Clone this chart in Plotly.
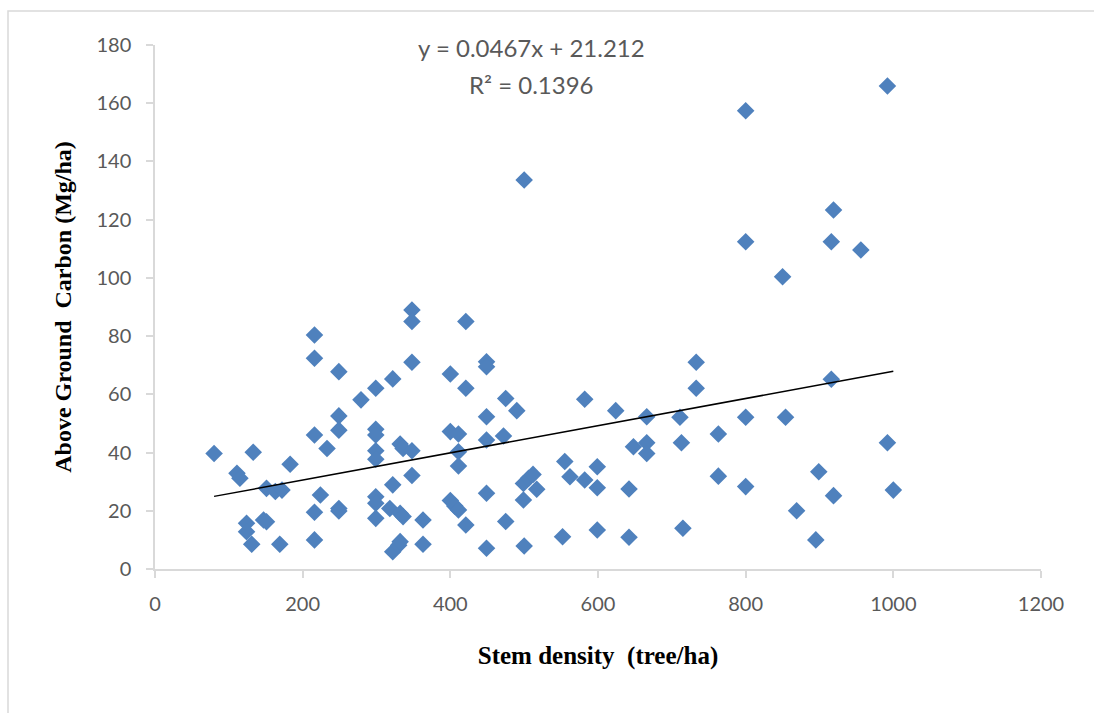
import plotly.graph_objects as go

# Stem density (tree/ha)
stem_density = [
    80, 133, 111, 115, 183, 216, 216, 249, 279, 299, 322, 348, 348, 348,
    249, 249, 216, 233, 299, 299, 299, 299, 332, 336, 348, 322, 348,
    151, 163, 172, 224, 216, 249, 249, 299, 299, 299, 318, 332, 336, 363,
    124, 124, 147, 151, 131, 169, 216, 322, 330, 332, 363,
    421, 400, 421, 449, 449, 475, 490, 449, 582, 624, 666, 400, 411, 411,
    411, 449, 472, 400, 406, 411, 421, 449, 449, 475, 500, 499, 499, 506,
    512, 517, 555, 562, 582, 599, 599, 642, 552, 599, 642, 648, 666, 666,
    500,
    992, 800, 919, 800, 916, 956, 850, 733, 733, 916, 711, 800, 854, 713,
    763, 992, 763, 800, 899, 919, 1000, 869, 715, 895,
]
# Above ground carbon (Mg/ha)
agc = [
    39.7, 40.1, 32.9, 31.2, 36.0, 80.4, 72.4, 67.8, 58.1, 62.1, 65.3, 89.0, 85.0, 71.0,
    52.6, 47.7, 46.0, 41.4, 48.0, 46.0, 40.6, 37.7, 42.9, 41.4, 40.6, 28.9, 32.1,
    27.7, 26.6, 27.1, 25.4, 19.5, 20.8, 19.9, 24.8, 22.6, 17.4, 20.8, 19.1, 18.0, 16.8,
    15.7, 12.8, 16.8, 16.2, 8.5, 8.5, 10.0, 5.9, 8.2, 9.4, 8.5,
    85.0, 67.0, 62.1, 71.2, 69.5, 58.6, 54.4, 52.3, 58.3, 54.4, 52.3, 47.2, 46.4, 40.3,
    35.4, 44.3, 45.7, 23.5, 21.6, 20.3, 15.1, 26.0, 7.1, 16.3, 7.9, 23.7, 29.4, 31.2,
    32.5, 27.4, 36.9, 31.7, 30.6, 35.1, 27.9, 27.5, 11.1, 13.4, 10.9, 42.0, 43.4, 39.7,
    133.6,
    165.9, 157.4, 123.3, 112.4, 112.4, 109.6, 100.4, 71.0, 62.1, 65.2, 52.1, 52.1, 52.1, 43.4,
    46.4, 43.4, 31.9, 28.3, 33.4, 25.2, 27.1, 20.0, 14.0, 10.0,
]

# Linear trendline reported on the chart
slope = 0.0467
intercept = 21.212
r_squared = 0.1396

x_ticks = [0, 200, 400, 600, 800, 1000, 1200]
y_ticks = [0, 20, 40, 60, 80, 100, 120, 140, 160, 180]

x_line = [min(stem_density), max(stem_density)]
y_line = [slope * v + intercept for v in x_line]

W, H = 1094, 713
L, R, T, B = 155, 53, 45, 144
pw, ph = W - L - R, H - T - B

fig = go.Figure()
fig.add_trace(go.Scatter(
    x=stem_density, y=agc, mode="markers",
    marker=dict(symbol="diamond", size=13.5, color="#4F81BD", line=dict(width=0)),
    showlegend=False, hoverinfo="x+y",
))
fig.add_trace(go.Scatter(
    x=x_line, y=y_line, mode="lines",
    line=dict(color="black", width=1.5),
    showlegend=False, hoverinfo="skip",
))

gray = "#595959"
axis_col = "#D9D9D9"

fig.update_layout(
    width=W, height=H,
    margin=dict(l=L, r=R, t=T, b=B, pad=0),
    paper_bgcolor="white", plot_bgcolor="white",
    font=dict(family="Lato, Open Sans, sans-serif", color=gray),
    xaxis=dict(
        range=[0, 1200], tickvals=x_ticks, showgrid=False, zeroline=False,
        showline=True, linecolor=axis_col, linewidth=1.5,
        ticks="outside", ticklen=7, tickcolor=axis_col, tickwidth=1.5,
        tickfont=dict(size=20, color=gray, family="Lato"),
        ticklabelstandoff=9,
        title=dict(text="<b>Stem density  (tree/ha)</b>",
                   font=dict(family="Liberation Serif", size=25, color="black"),
                   standoff=33),
    ),
    yaxis=dict(
        range=[0, 180], tickvals=y_ticks, showgrid=False, zeroline=False,
        showline=True, linecolor=axis_col, linewidth=1.5,
        ticks="outside", ticklen=7, tickcolor=axis_col, tickwidth=1.5,
        tickfont=dict(size=20, color=gray, family="Lato"),
        ticklabelstandoff=11,
        title=dict(text="<b>Above Ground  Carbon (Mg/ha)</b>",
                   font=dict(family="Liberation Serif", size=24, color="black"),
                   standoff=18),
    ),
    annotations=[
        dict(x=510, y=179, xref="x", yref="y", showarrow=False,
             text=f"y = {slope}x + {intercept}",
             font=dict(size=24, color=gray, family="Lato"), yanchor="middle"),
        dict(x=510, y=166.6, xref="x", yref="y", showarrow=False,
             text=f"R² = {r_squared}",
             font=dict(size=24, color=gray, family="Lato"), yanchor="middle"),
    ],
    shapes=[
        dict(type="rect", xref="paper", yref="paper",
             x0=(8 - L) / pw, x1=(W + 10 - L) / pw,
             y0=-(H + 10 - T - ph) / ph, y1=(ph + T - 11) / ph,
             line=dict(color=axis_col, width=1.5), fillcolor="rgba(0,0,0,0)",
             layer="below"),
    ],
)

fig.write_html("out.html")
